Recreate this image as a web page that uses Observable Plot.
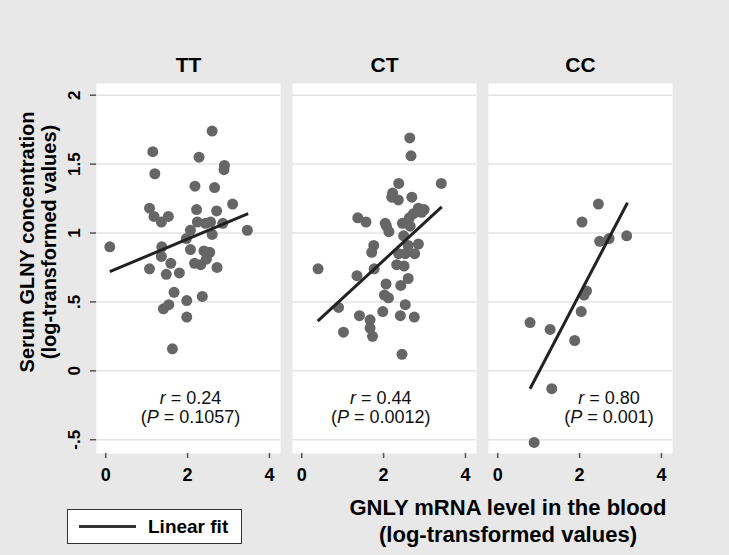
<!DOCTYPE html>
<html><head><meta charset="utf-8">
<script src="https://cdn.jsdelivr.net/npm/d3@7"></script>
<script src="https://cdn.jsdelivr.net/npm/@observablehq/plot@0.6"></script>
<style>
html,body{margin:0;padding:0;background:#e8e8e8;}
#wrap{position:relative;width:729px;height:555px;background:#e8e8e8;font-family:"Liberation Sans",Arial,Helvetica,sans-serif;overflow:hidden;}
#chart{position:absolute;left:0;top:0;}
#ytitle{position:absolute;left:-147px;top:220px;width:370px;height:44px;line-height:22px;text-align:center;font-weight:bold;font-size:20px;color:#000;transform:rotate(-90deg);transform-origin:50% 50%;white-space:nowrap;}
#xtitle{position:absolute;left:308px;top:494px;width:400px;line-height:27px;text-align:center;font-weight:bold;font-size:22px;color:#000;white-space:nowrap;}
#legend{position:absolute;left:67px;top:509px;width:173px;height:33px;background:#fff;border:1px solid #333;}
#legend .sw{position:absolute;left:11px;top:15px;width:57px;height:3px;background:#333;}
#legend .lb{position:absolute;left:80px;top:0;line-height:33px;font-weight:bold;font-size:19px;color:#000;white-space:nowrap;}
</style></head><body>
<div id="wrap">
<div id="chart"></div>
<div id="ytitle">Serum GLNY concentration<br>(log-transformed values)</div>
<div id="xtitle">GNLY mRNA level in the blood<br>(log-transformed values)</div>
<div id="legend"><span class="sw"></span><span class="lb">Linear fit</span></div>
</div>
<script>
// Genotype groups (facets)
const groups = ["TT", "CT", "CC"];

// TT panel points
const ttX = [0.10,2.60,1.15,2.28,2.90,2.89,1.20,2.18,2.66,1.07,3.10,2.22,2.71,1.18,1.36,1.53,2.24,2.44,2.56,2.86,3.46,2.07,2.60,1.97,1.37,1.36,2.07,2.40,2.54,2.46,2.17,2.32,1.59,1.07,2.72,1.48,1.80,1.67,2.36,1.98,1.54,1.41,1.98,1.63];
const ttY = [0.90,1.74,1.59,1.55,1.49,1.46,1.43,1.34,1.33,1.18,1.21,1.17,1.16,1.12,1.08,1.12,1.08,1.07,1.08,1.07,1.02,1.02,0.99,0.96,0.90,0.83,0.88,0.87,0.86,0.81,0.78,0.77,0.78,0.74,0.75,0.70,0.71,0.57,0.54,0.51,0.48,0.45,0.39,0.16];

// CT panel points
const ctX = [2.64,2.67,3.41,2.37,2.22,2.20,2.36,2.69,2.85,2.99,2.93,2.73,2.63,1.37,1.57,2.04,2.07,2.13,2.46,2.65,2.49,1.76,1.71,2.60,2.85,2.37,2.53,2.76,2.32,2.50,1.77,0.40,1.35,2.60,2.06,2.42,2.02,2.12,0.90,2.53,1.98,1.41,2.41,2.75,1.67,1.67,1.02,1.73,2.45];
const ctY = [1.69,1.56,1.36,1.36,1.29,1.26,1.24,1.26,1.18,1.17,1.15,1.14,1.11,1.11,1.08,1.07,1.05,1.01,1.07,1.05,0.98,0.91,0.86,0.91,0.92,0.85,0.85,0.85,0.77,0.76,0.74,0.74,0.69,0.67,0.63,0.62,0.55,0.53,0.46,0.48,0.43,0.40,0.40,0.39,0.37,0.31,0.28,0.25,0.12];

// CC panel points
const ccX = [2.46,2.06,2.49,2.72,3.15,2.17,2.11,2.04,0.79,1.28,1.88,1.32,0.89];
const ccY = [1.21,1.08,0.94,0.96,0.98,0.58,0.55,0.43,0.35,0.30,0.22,-0.13,-0.52];

// Linear fit end points per group
const fitX0 = [0.10, 0.39, 0.79];
const fitY0 = [0.72, 0.36, -0.13];
const fitX1 = [3.48, 3.42, 3.17];
const fitY1 = [1.14, 1.19, 1.22];

// Annotations
const rLabels = ["r = 0.24", "r = 0.44", "r = 0.80"];
const pLabels = ["(P = 0.1057)", "(P = 0.0012)", "(P = 0.001)"];
const annoX = [2.07, 1.93, 2.72];
const annoYr = [-0.197, -0.197, -0.197];
const annoYp = [-0.339, -0.339, -0.339];

// Ticks
const yTicks = [-0.5, 0, 0.5, 1, 1.5, 2];
const yTickLabels = ["-.5", "0", ".5", "1", "1.5", "2"];
const xTicks = [0, 2, 4];

const pts = [
  ...ttX.map((x, i) => ({g: "TT", x, y: ttY[i]})),
  ...ctX.map((x, i) => ({g: "CT", x, y: ctY[i]})),
  ...ccX.map((x, i) => ({g: "CC", x, y: ccY[i]}))
];
const fits = groups.map((g, i) => ({g, x0: fitX0[i], y0: fitY0[i], x1: fitX1[i], y1: fitY1[i]}));
const annos = [
  ...groups.map((g, i) => ({g, x: annoX[i], y: annoYr[i], t: rLabels[i]})),
  ...groups.map((g, i) => ({g, x: annoX[i], y: annoYp[i], t: pLabels[i]}))
];

const chart = Plot.plot({
  width: 729, height: 490,
  marginLeft: 96, marginRight: 56, marginTop: 83, marginBottom: 37,
  style: {background: "transparent", fontFamily: "'Liberation Sans', Arial, sans-serif", overflow: "visible"},
  fx: {domain: groups, paddingInner: 0.06, paddingOuter: 0, label: null},
  x: {domain: [-0.225, 4.27]},
  y: {domain: [-0.6, 2.085]},
  marks: [
    Plot.frame({fill: "white", stroke: null}),
    Plot.gridY(yTicks, {stroke: "#e4e4e4", strokeOpacity: 1, strokeWidth: 1.5}),
    Plot.axisFx({anchor: "top", tickSize: 0, tickPadding: 12, fontSize: 21, fontWeight: "bold", fill: "#000", label: null}),
    Plot.axisY(yTicks, {tickSize: 6, tickPadding: 11, tickRotate: -90, tickFormat: d => yTickLabels[yTicks.indexOf(d)], fontSize: 17, fontWeight: "bold", fill: "#000", stroke: "#555", strokeWidth: 1.5, line: true, label: null}),
    Plot.axisX(xTicks, {tickSize: 5, tickPadding: 10, fontSize: 18, fontWeight: "bold", fill: "#000", stroke: "#555", strokeWidth: 1.5, line: true, label: null}),
    Plot.dot(pts, {fx: "g", x: "x", y: "y", r: 5.5, fill: "#666", stroke: null}),
    Plot.link(fits, {fx: "g", x1: "x0", y1: "y0", x2: "x1", y2: "y1", stroke: "#222", strokeWidth: 3}),
    Plot.text(annos, {fx: "g", x: "x", y: "y", text: "t", fontSize: 18, fill: "#111", fontWeight: "normal"})
  ]
});
document.getElementById("chart").appendChild(chart);

// italicize r and P in annotations
chart.querySelectorAll("text").forEach(t => {
  const s = t.textContent;
  if (/^r = /.test(s)) {
    t.innerHTML = '<tspan font-style="italic">r</tspan>' + s.slice(1);
  } else if (/^\(P = /.test(s)) {
    t.innerHTML = '(<tspan font-style="italic">P</tspan>' + s.slice(2);
  }
});
</script>
</body></html>
